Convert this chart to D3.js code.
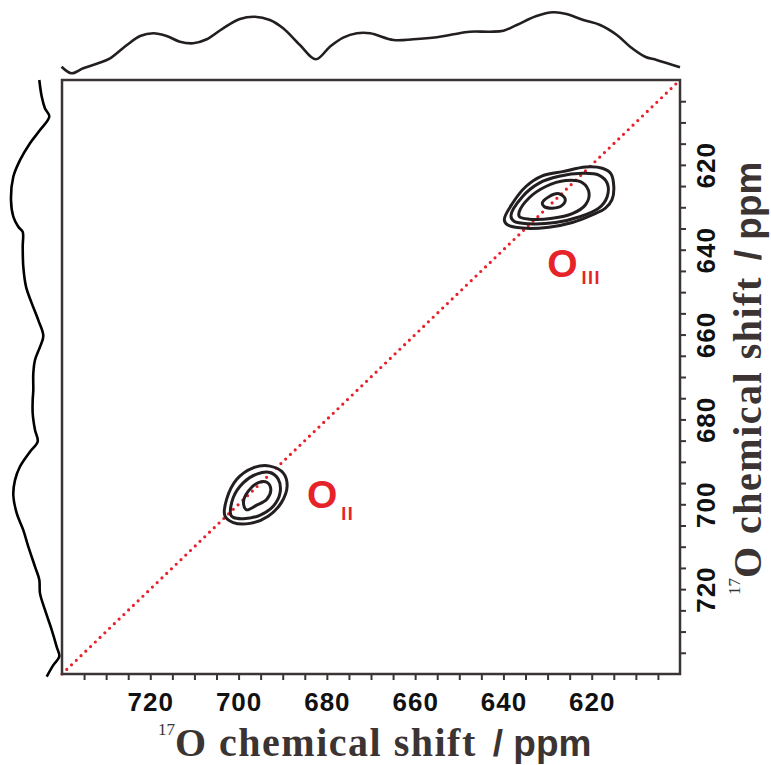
<!DOCTYPE html>
<html lang="en">

<head>
    <meta charset="UTF-8">
    <title>17O 2D correlation</title>
    <script src="https://d3js.org/d3.v7.min.js"></script>
    <style>
        body {
            margin: 0;
            background: #fff;
        }

        .frame {
            fill: none;
            stroke: #3a3534;
            stroke-width: 2.5px;
        }

        .tick line {
            stroke: #3a3534;
            stroke-width: 2px;
        }

        .tick text {
            font: bold 26px "Liberation Sans", Arial, sans-serif;
            letter-spacing: 1px;
            fill: #111;
        }

        .proj {
            fill: none;
            stroke: #231f20;
            stroke-width: 2.6px;
            stroke-linejoin: round;
        }

        .contour {
            fill: none;
            stroke: #231f20;
            stroke-width: 3px;
        }

        .diag {
            stroke: #e8202a;
            stroke-width: 3.2px;
            stroke-dasharray: 0 6.6;
            stroke-linecap: round;
        }

        .peak {
            font-family: "Liberation Sans", Arial, sans-serif;
            font-weight: bold;
            fill: #e52329;
        }

        .title {
            fill: #3b3433;
            font-weight: bold;
        }
    </style>
</head>

<body>
    <script>
        // axis values (ppm)
        const axisTicks = d3.range(605, 740, 5);
        const axisLabels = [620, 640, 660, 680, 700, 720];

        // F2 projection along the top: [ppm, intensity]
        const topProj = [
            [740.1, 13.3], [737.8, 6.7], [735.2, 11.7], [731.8, 16.7], [729.1, 21.7],
            [725.3, 35], [722.3, 44], [719.3, 46.7], [716.3, 44], [713.3, 38.3],
            [710.3, 36.7], [707.2, 40.7], [703.5, 51.7], [699.7, 61], [696.3, 63.3],
            [692.9, 60], [689.9, 51.7], [686.1, 35], [682.5, 20.7], [679.3, 33.3],
            [676.3, 42.3], [673.2, 46.7], [670.2, 46.7], [664.9, 40], [660.4, 40.7],
            [655.1, 42.7], [651.3, 45.7], [647.6, 48.3], [643.0, 48.3], [640.0, 49.3],
            [637.0, 55], [632.5, 64], [628.7, 67.7], [625.7, 66], [621.9, 60],
            [618.1, 55], [614.3, 45], [611.3, 33.3], [607.9, 23.3], [605.3, 20],
            [600.0, 12.7]
        ];

        // F1 projection along the left: [ppm, intensity]
        const leftProj = [
            [600.0, 22.7], [603.9, 20.3], [606.7, 17], [608.6, 12.7], [611.8, 22],
            [614.9, 32], [618.9, 42], [622.8, 48.7], [628.3, 51], [632.2, 48.7],
            [634.6, 43.7], [635.8, 39.3], [639.3, 39.3], [644.0, 38.7], [648.7, 36],
            [652.6, 30.3], [656.6, 23.7], [660.3, 18.7], [662.9, 22], [666.0, 27],
            [669.2, 28.7], [673.1, 28.7], [675.4, 29.3], [678.6, 29.3], [682.5, 27],
            [685.2, 24.3], [687.6, 32], [691.1, 42], [694.3, 47], [697.8, 48.7],
            [702.1, 45.3], [706.1, 38.7], [710.0, 33.7], [714.7, 27], [717.8, 22.7],
            [721.0, 22], [724.9, 17], [729.6, 10.3], [733.6, 5.3], [735.9, 2.7],
            [737.9, 8.7], [740.6, 15.3]
        ];

        // contour rings, [F2 ppm, F1 ppm]
        const contoursOIII = [
            [[639.8, 632.9], [637.9, 629.0], [634.9, 625.1], [631.2, 622.6], [626.6, 621.6],
            [621.4, 620.5], [617.6, 620.8], [615.7, 622.0], [615.0, 625.1], [615.4, 628.2],
            [616.9, 630.2], [619.9, 631.8], [624.4, 633.6], [629.7, 634.7], [635.7, 634.9],
            [639.1, 634.1]],
            [[638.3, 632.0], [635.7, 627.5], [631.9, 624.3], [627.4, 622.7], [622.1, 622.0],
            [618.4, 622.4], [616.5, 624.3], [616.5, 627.5], [618.4, 630.2], [622.9, 632.3],
            [628.2, 633.6], [634.2, 633.9], [637.6, 633.3]],
            [[636.4, 631.0], [634.2, 627.8], [630.4, 625.1], [625.9, 623.7], [622.1, 624.2],
            [620.6, 626.7], [621.4, 629.4], [624.4, 631.5], [628.9, 632.6], [634.2, 632.8],
            [636.4, 632.2]],
            [[631.2, 629.0], [629.7, 627.5], [627.4, 626.8], [626.0, 628.1], [626.8, 629.6],
            [628.9, 630.2], [630.8, 629.8]]
        ];

        const contoursOII = [
            [[703.1, 702.7], [702.7, 698.8], [700.4, 694.1], [696.7, 691.4], [692.9, 691.0],
            [689.9, 692.6], [689.0, 695.7], [690.3, 699.6], [693.3, 702.8], [697.4, 704.5],
            [701.2, 704.3]],
            [[701.8, 702.4], [701.2, 698.4], [698.9, 694.9], [695.9, 692.9], [692.9, 692.5],
            [691.0, 694.1], [690.6, 697.3], [692.1, 700.4], [695.2, 702.6], [698.9, 703.4],
            [701.2, 703.1]],
            [[698.9, 699.6], [697.8, 696.9], [695.5, 694.9], [693.6, 694.8], [692.7, 696.5],
            [693.6, 698.8], [695.9, 700.2], [698.2, 701.3]]
        ];

        // peak labels: [F2 ppm, F1 ppm, main, subscript]
        const peakLabels = [
            [630.1, 646.4, "O", "III"],
            [684.5, 700.9, "O", "II"]
        ];

        const W = 771, H = 765;
        const plot = { left: 62, right: 680, top: 80, bottom: 674 };

        const svg = d3.select("body").append("svg")
            .attr("width", W)
            .attr("height", H);

        const x = d3.scaleLinear().domain([740, 600]).range([plot.left, plot.right]);
        const y = d3.scaleLinear().domain([600, 740]).range([plot.top, plot.bottom]);

        // projection intensity scales
        const topI = d3.scaleLinear().domain([0, 80]).range([80, 0]);
        const leftI = d3.scaleLinear().domain([0, 62]).range([62, 0]);

        // top projection
        svg.append("path")
            .attr("class", "proj")
            .attr("d", d3.line()
                .x(d => x(d[0]))
                .y(d => topI(d[1]))
                .curve(d3.curveCatmullRom.alpha(0.5))(topProj));

        // left projection
        svg.append("path")
            .attr("class", "proj")
            .style("stroke", "#000")
            .attr("d", d3.line()
                .x(d => leftI(d[1]))
                .y(d => y(d[0]))
                .curve(d3.curveCatmullRom.alpha(0.5))(leftProj));

        // diagonal
        svg.append("line")
            .attr("class", "diag")
            .attr("x1", x(740)).attr("y1", y(740))
            .attr("x2", x(600)).attr("y2", y(600));

        // contours
        const ring = d3.line()
            .x(d => x(d[0]))
            .y(d => y(d[1]))
            .curve(d3.curveCatmullRomClosed.alpha(0.5));

        svg.selectAll(".contour")
            .data(contoursOIII.concat(contoursOII))
            .enter().append("path")
            .attr("class", "contour")
            .attr("d", ring);

        // frame
        svg.append("rect")
            .attr("class", "frame")
            .attr("x", plot.left)
            .attr("y", plot.top)
            .attr("width", plot.right - plot.left)
            .attr("height", plot.bottom - plot.top);

        const fmt = d => axisLabels.includes(d) ? d : "";

        // bottom axis
        const gx = svg.append("g")
            .attr("transform", "translate(0," + plot.bottom + ")")
            .call(d3.axisBottom(x).tickValues(axisTicks).tickSize(6).tickPadding(13).tickFormat(fmt));
        gx.select(".domain").remove();

        // right axis, rotated labels
        const gy = svg.append("g")
            .attr("transform", "translate(" + plot.right + ",0)")
            .call(d3.axisRight(y).tickValues(axisTicks).tickSize(6).tickFormat(fmt));
        gy.select(".domain").remove();
        gy.selectAll(".tick text")
            .attr("x", null).attr("dy", null)
            .attr("text-anchor", "middle")
            .attr("transform", "translate(35,0) rotate(-90)");

        // peak labels
        peakLabels.forEach(p => {
            const t = svg.append("text")
                .attr("class", "peak")
                .attr("x", x(p[0]))
                .attr("y", y(p[1]));
            t.append("tspan").style("font-size", "39px").text(p[2]);
            t.append("tspan")
                .style("font-size", "18px")
                .style("letter-spacing", "1.5px")
                .attr("dx", 4)
                .attr("dy", p[3] === "III" ? 7 : 12)
                .text(p[3]);
        });

        // axis titles
        function title(g) {
            g.append("tspan")
                .style("font", "17px 'Liberation Serif', serif")
                .attr("dy", -21)
                .text("17");
            g.append("tspan")
                .style("font", "bold 40px 'Liberation Serif', serif")
                .style("letter-spacing", "1.5px")
                .attr("dy", 21)
                .text("O chemical shift");
            g.append("tspan")
                .style("font", "bold 37px 'Liberation Sans Narrow', 'Liberation Sans', sans-serif")
                .attr("dx", 16)
                .text("/ ppm");
        }

        svg.append("text")
            .attr("class", "title")
            .attr("x", 158)
            .attr("y", 756)
            .call(title);

        svg.append("text")
            .attr("class", "title")
            .attr("transform", "translate(761,595) rotate(-90)")
            .call(title);

    </script>

</body>

</html>
